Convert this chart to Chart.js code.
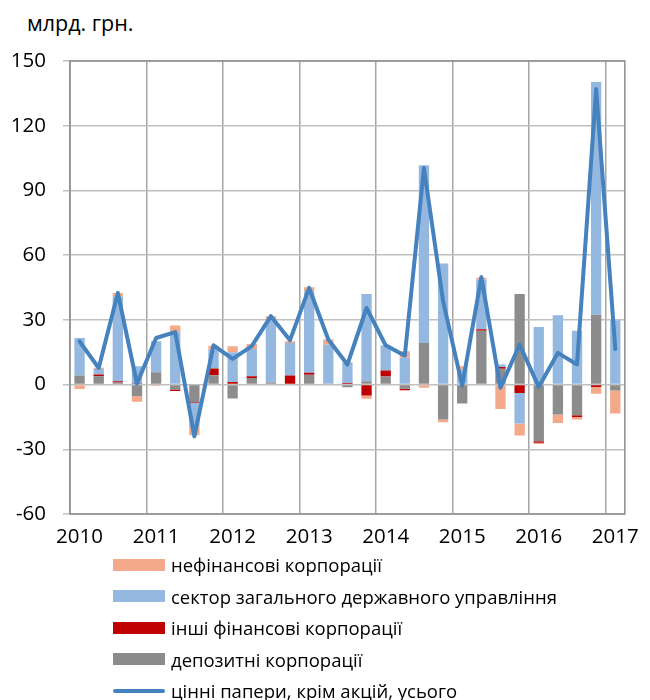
<!DOCTYPE html>
<html>
<head>
<meta charset="utf-8">
<script src="https://cdn.jsdelivr.net/npm/chart.js@4.4.0/dist/chart.umd.min.js"></script>
<style>
  body { margin: 0; background: #fff; font-family: "Open Sans", sans-serif; color: #000; }
  #wrap { position: relative; width: 650px; height: 700px; }
  #box { position: absolute; left: 0; top: 0; width: 650px; height: 556px; }
  #unit { position: absolute; left: 27px; top: 8px; font-size: 21.5px; }
  #legend { position: absolute; left: 113px; top: 549px; font-size: 18.5px; }
  .row { display: flex; align-items: center; height: 31.5px; }
  .sw { width: 52px; height: 12px; margin-right: 6px; }
  .ln { width: 52px; height: 4px; margin-right: 6px; border-radius: 2px; }
</style>
</head>
<body>
<div id="wrap">
  <div id="unit">млрд. грн.</div>
  <div id="box"><canvas id="chart"></canvas></div>
  <div id="legend"></div>
</div>
<script>
// quarters 2010 Q1 .. 2017 Q1
const quarters = [
  "2010 I", "2010 II", "2010 III", "2010 IV",
  "2011 I", "2011 II", "2011 III", "2011 IV",
  "2012 I", "2012 II", "2012 III", "2012 IV",
  "2013 I", "2013 II", "2013 III", "2013 IV",
  "2014 I", "2014 II", "2014 III", "2014 IV",
  "2015 I", "2015 II", "2015 III", "2015 IV",
  "2016 I", "2016 II", "2016 III", "2016 IV",
  "2017 I"
];
const yearTicks = ["2010", "2011", "2012", "2013", "2014", "2015", "2016", "2017"];

// депозитні корпорації
const depository = [4.2, 3.9, 1, -5.4, 5.7, -2.3, -8.2, 4.3, -6.5, 3.1, 1, 0, 4.5, 0.5, -1.2, 1.5,
  3.7, -1.9, 19.3, -16.2, -8.8, 25, 7.3, 42, -26.3, -13.9, -14.2, 32.4, -2.8];
// інші фінансові корпорації
const otherFin = [0, 0.8, 0.5, 0.3, 0, -0.7, -0.3, 3.1, 1.2, 0.8, 0, 4.2, 1, 0, 0.7, -5.1,
  2.8, -0.7, 0, 0, 0, 0.6, 0.8, -3.9, -0.7, 0, -0.8, -1.1, 0];
// сектор загального державного управління
const government = [17.4, 2.5, 39.5, 8.2, 14.4, 24.3, -11.1, 8.8, 13.8, 12.6, 29.1, 15.1, 37.8, 18, 9.3, 40.5,
  11.7, 12.4, 82.4, 56.1, 7, 23.1, 1.2, -14.2, 26.7, 32.1, 25, 107.9, 29.8];
// нефінансові корпорації
const nonFin = [-2, 0.6, 1.5, -2.6, -0.5, 3.1, -3.9, 1.8, 2.8, 2.3, 1.6, 0.8, 1.8, 2.4, 0.3, -1.5,
  0, 3, -1.5, -1.3, 1.5, 0.8, -11.3, -5.5, -0.5, -3.9, -1.2, -3.1, -10.6];
// цінні папери, крім акцій, усього
const total = [20, 7.7, 42.5, 0.5, 21.6, 24.3, -24, 18.2, 11.9, 17.8, 31.7, 20.6, 44.8, 20.9, 9.3, 35.5,
  18.2, 13.4, 100.4, 38.6, -0.5, 49.8, -1.5, 18.5, -1.1, 14.7, 9.3, 137, 16.5];

// frame round the plot area
const frame = {
  id: "frame",
  beforeDatasetsDraw(chart) {
    const { ctx, chartArea: a } = chart;
    ctx.save();
    ctx.strokeStyle = "#8c8c8c";
    ctx.lineWidth = 1.5;
    ctx.strokeRect(a.left, a.top, a.right - a.left, a.bottom - a.top);
    ctx.restore();
  }
};

const bar = (label, data, color) => ({
  type: "bar", label, data, backgroundColor: color, stack: "bars", order: 1,
  barPercentage: 0.54, categoryPercentage: 1
});

const chart = new Chart(document.getElementById("chart"), {
  data: {
    labels: quarters,
    datasets: [
      bar("депозитні корпорації", depository, "#8c8c8c"),
      bar("інші фінансові корпорації", otherFin, "#c00000"),
      bar("сектор загального державного управління", government, "#95b8e0"),
      bar("нефінансові корпорації", nonFin, "#f4a98a"),
      {
        type: "line", label: "цінні папери, крім акцій, усього", data: total,
        borderColor: "#4582be", borderWidth: 4, borderJoinStyle: "round", borderCapStyle: "round",
        pointRadius: 0, tension: 0, stack: "total", order: 0
      }
    ]
  },
  options: {
    responsive: true,
    maintainAspectRatio: false,
    animation: false,
    layout: { padding: { top: 61, right: 16, bottom: 2, left: 0 } },
    plugins: { legend: { display: false }, tooltip: { enabled: false } },
    scales: {
      x: {
        stacked: true,
        offset: true,
        afterFit: (s) => { s.height = 40; },
        border: { display: false },
        grid: {
          offset: true,
          drawTicks: false,
          lineWidth: 1.5,
          color: (c) => (c.index % 4 === 0 ? "#a6a6a6" : "rgba(0,0,0,0)")
        },
        ticks: {
          autoSkip: false,
          maxRotation: 0,
          padding: 11,
          color: "#000",
          font: { family: "Open Sans", size: 20.5 },
          callback: (v, i) => (i % 4 === 0 ? yearTicks[i / 4] : "")
        }
      },
      y: {
        stacked: true,
        min: -60,
        max: 150,
        afterFit: (s) => { s.width = 70; },
        border: { display: false },
        grid: { color: "#c0c0c0", lineWidth: 1.5, tickLength: 7 },
        ticks: {
          stepSize: 30,
          padding: 17,
          color: "#000",
          font: { family: "Open Sans", size: 20.5 }
        }
      }
    }
  },
  plugins: [frame]
});

// legend in the reference order
const legendOrder = [3, 2, 1, 0, 4];
const legend = document.getElementById("legend");
legendOrder.forEach((i) => {
  const ds = chart.data.datasets[i];
  const row = document.createElement("div");
  row.className = "row";
  const mark = document.createElement("div");
  if (ds.type === "line") {
    mark.className = "ln";
    mark.style.background = ds.borderColor;
  } else {
    mark.className = "sw";
    mark.style.background = ds.backgroundColor;
  }
  const txt = document.createElement("span");
  txt.textContent = ds.label;
  row.appendChild(mark);
  row.appendChild(txt);
  legend.appendChild(row);
});
</script>
</body>
</html>
